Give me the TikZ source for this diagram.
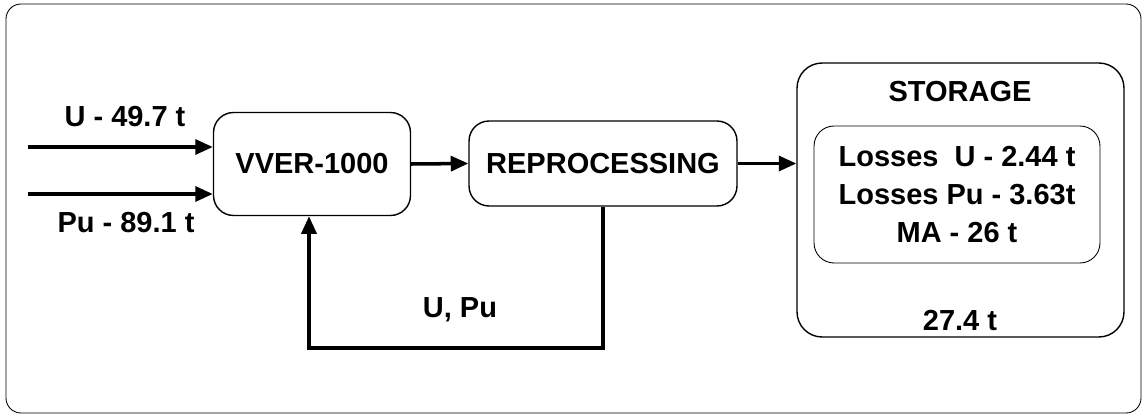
\documentclass[tikz,border=0pt]{standalone}
\usepackage{fontspec}
\setmainfont{Liberation Sans}
\usepackage{tikz}
\usetikzlibrary{arrows.meta,positioning}

\tikzset{
	block/.style={draw,line width=0.8pt,rounded corners=0.4cm,align=center,font=\fontsize{16.5}{21.5}\selectfont\bfseries},
	lbl/.style={font=\fontsize{16.5}{21.5}\selectfont\bfseries},
	flow/.style={line width=2pt,-{Triangle[length=10pt,width=8.5pt]}}
}

\begin{document}
\begin{tikzpicture}[x=0.02cm,y=-0.02cm]
	\useasboundingbox (0,0) rectangle (1145,419);
	\draw[line width=0.5pt,rounded corners=0.3cm] (6,4) rectangle (1141,413);
	% nodes
	\node[block,minimum width=3.94cm,minimum height=2.06cm] (vver) at (312,164) {VVER-1000};
	\node[block,minimum width=5.36cm,minimum height=1.7cm] (rep) at (603,163.5) {REPROCESSING};
	\node[block,minimum width=6.54cm,minimum height=5.48cm,rounded corners=0.5cm] (stor) at (960.5,200) {};
	\node[block,line width=0.5pt,minimum width=5.72cm,minimum height=2.74cm] (loss) at (957,194.5) {Losses\ \ U - 2.44 t\\Losses Pu - 3.63t\\MA - 26 t};
	\node[lbl] (storlbl) at (960,92) {STORAGE};
	\node[lbl] (mass) at (960,320) {27.4 t};
	%
	\coordinate (uin) at (28,147);
	\coordinate (puin) at (28,194);
	\coordinate (fbA) at (603,348);
	\coordinate (fbB) at (309,348);
	\node[lbl] (ulbl) at (125,117) {U - 49.7 t};
	\node[lbl] (pulbl) at (126,223) {Pu - 89.1 t};
	\node[lbl] (fblbl) at (460,310) {U, Pu};
	% arrows
	\draw[flow] (uin) -- (uin -| vver.west);
	\draw[flow] (puin) -- (puin -| vver.west);
	\draw[flow] (vver.east) -- (rep.west);
	\draw[flow] (rep.east) -- (rep.east -| stor.west);
	\draw[flow] (rep.south) -- (fbA) -- (fbB) -- (fbB |- vver.south);
\end{tikzpicture}
\end{document}
